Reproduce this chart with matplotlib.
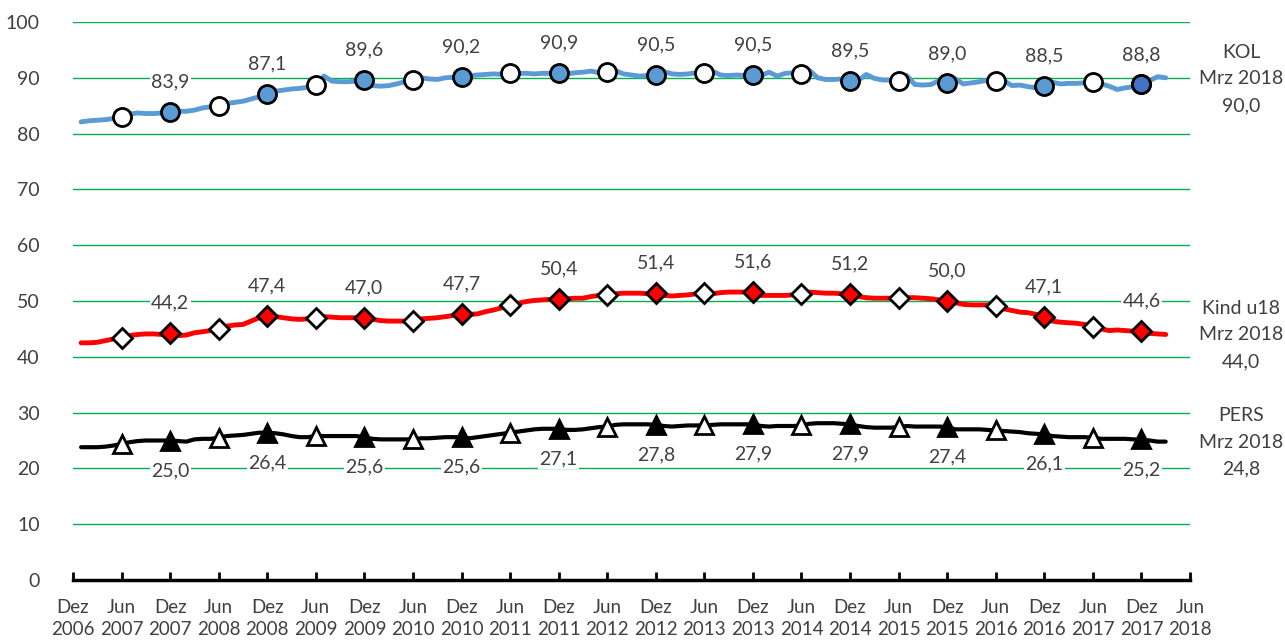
import numpy as np
import matplotlib.pyplot as plt

plt.rcParams['font.family'] = ['Lato', 'DejaVu Sans']

# monthly values, Jan 2007 .. Mrz 2018
kol = [
    82.1, 82.3, 82.4, 82.5, 82.7, 83.0, 83.5, 83.7, 83.6, 83.6, 83.7, 83.9,
    84.0, 84.0, 84.2, 84.6, 84.8, 85.0, 85.4, 85.6, 85.8, 86.2, 86.6, 87.1,
    87.6, 87.8, 88.0, 88.1, 88.3, 88.7, 90.3, 89.4, 89.3, 89.3, 89.4, 89.6,
    88.6, 88.5, 88.6, 88.9, 89.3, 89.6, 90.0, 89.8, 89.7, 90.0, 90.1, 90.2,
    90.4, 90.5, 90.6, 90.7, 90.6, 90.9, 90.8, 90.8, 90.7, 90.8, 90.8, 90.9,
    90.7, 90.9, 91.0, 91.2, 90.9, 91.0, 91.3, 90.7, 90.5, 90.3, 90.4, 90.5,
    91.1, 90.7, 90.6, 90.7, 90.9, 90.8, 91.2, 90.5, 90.4, 90.5, 90.4, 90.5,
    90.4, 91.0, 90.3, 90.8, 90.9, 90.7, 91.3, 90.0, 89.7, 89.7, 89.8, 89.5,
    89.5, 90.6, 89.9, 89.6, 89.6, 89.4, 90.4, 88.8, 88.7, 88.8, 89.5, 89.0,
    89.8, 88.9, 89.1, 89.3, 89.6, 89.4, 89.5, 88.6, 88.7, 88.4, 88.2, 88.5,
    89.2, 88.9, 89.0, 89.0, 89.1, 89.2, 88.9, 88.5, 87.9, 88.2, 88.4, 88.8,
    89.5, 90.2, 90.0,
]
kind = [
    42.5, 42.5, 42.6, 42.9, 43.2, 43.4, 43.8, 44.0, 44.1, 44.1, 44.0, 44.2,
    43.8, 43.9, 44.3, 44.5, 44.7, 45.0, 45.5, 45.7, 45.8, 46.4, 47.0, 47.4,
    47.2, 47.0, 46.8, 46.7, 46.8, 47.0, 47.2, 47.1, 47.0, 47.0, 47.0, 47.0,
    46.7, 46.5, 46.4, 46.4, 46.4, 46.4, 46.8, 46.9, 47.0, 47.2, 47.4, 47.7,
    47.6, 47.7, 48.1, 48.4, 48.8, 49.3, 49.6, 49.9, 50.1, 50.2, 50.3, 50.4,
    50.4, 50.5, 50.5, 50.8, 51.0, 51.0, 51.3, 51.4, 51.4, 51.4, 51.3, 51.4,
    51.0, 50.9, 51.0, 51.1, 51.3, 51.4, 51.3, 51.5, 51.6, 51.6, 51.6, 51.6,
    51.0, 51.0, 51.0, 51.0, 51.1, 51.3, 51.6, 51.5, 51.4, 51.4, 51.3, 51.2,
    50.8, 50.6, 50.5, 50.5, 50.5, 50.5, 50.6, 50.6, 50.5, 50.4, 50.2, 50.0,
    49.7, 49.4, 49.3, 49.3, 49.3, 49.1, 48.6, 48.3, 48.0, 47.9, 47.6, 47.1,
    46.4, 46.2, 46.1, 46.0, 45.8, 45.3, 45.0, 44.7, 44.8, 44.7, 44.6, 44.6,
    44.2, 44.1, 44.0,
]
pers = [
    23.8, 23.8, 23.8, 23.9, 24.1, 24.4, 24.7, 24.9, 25.0, 25.0, 25.0, 25.0,
    24.9, 24.8, 25.2, 25.3, 25.3, 25.5, 25.8, 25.9, 26.0, 26.2, 26.4, 26.4,
    26.3, 26.1, 25.8, 25.6, 25.6, 25.8, 25.8, 25.8, 25.8, 25.8, 25.8, 25.6,
    25.3, 25.2, 25.2, 25.2, 25.2, 25.2, 25.4, 25.4, 25.5, 25.6, 25.6, 25.6,
    25.4, 25.6, 25.8, 26.0, 26.2, 26.4, 26.6, 26.8, 27.0, 27.1, 27.1, 27.1,
    26.9, 26.9, 27.0, 27.2, 27.4, 27.5, 27.8, 27.9, 27.9, 27.9, 27.9, 27.8,
    27.6, 27.5, 27.6, 27.7, 27.7, 27.7, 27.8, 27.9, 27.9, 27.9, 27.9, 27.9,
    27.6, 27.5, 27.6, 27.6, 27.6, 27.7, 28.0, 28.1, 28.1, 28.1, 28.0, 27.9,
    27.6, 27.4, 27.3, 27.3, 27.3, 27.4, 27.6, 27.5, 27.5, 27.5, 27.5, 27.4,
    27.0, 27.0, 27.0, 27.0, 26.9, 26.8, 26.7, 26.6, 26.5, 26.3, 26.2, 26.1,
    25.8, 25.7, 25.6, 25.6, 25.6, 25.5, 25.3, 25.3, 25.3, 25.3, 25.2, 25.2,
    25.0, 24.8, 24.8,
]

tick_labels = [
    'Dez\n2006', 'Jun\n2007', 'Dez\n2007', 'Jun\n2008', 'Dez\n2008', 'Jun\n2009',
    'Dez\n2009', 'Jun\n2010', 'Dez\n2010', 'Jun\n2011', 'Dez\n2011', 'Jun\n2012',
    'Dez\n2012', 'Jun\n2013', 'Dez\n2013', 'Jun\n2014', 'Dez\n2014', 'Jun\n2015',
    'Dez\n2015', 'Jun\n2016', 'Dez\n2016', 'Jun\n2017', 'Dez\n2017', 'Jun\n2018',
]
names = ['KOL', 'Kind u18', 'PERS']
last_month = 'Mrz 2018'

TXT = '#404040'


def fmt(v):
    return f'{v:.1f}'.replace('.', ',')


def main():
    x = np.arange(1, len(kol) + 1)   # months after Dez 2006
    jun = np.arange(5, len(kol), 12)
    dez = np.arange(11, len(kol), 12)

    fig = plt.figure(figsize=(12.85, 6.44), dpi=100)
    ax = fig.add_axes([73 / 1285, 64 / 644, 1117 / 1285, 558 / 644])

    for y in range(10, 101, 10):
        ax.axhline(y, color='#00b050', lw=1, zorder=1)

    series = [
        (np.array(kol), '#5b9bd5', 'o', 13, 3.5, 30),
        (np.array(kind), '#ff0000', 'D', 10, 3.5, 30),
        (np.array(pers), 'black', '^', 13, 3.0, -30),
    ]
    for vals, col, mk, ms, lw, off in series:
        ax.plot(x, vals, color=col, lw=lw, zorder=3, solid_capstyle='round')
        ax.plot(x[jun], vals[jun], mk, ms=ms, mfc='white', mec='black',
                mew=2, zorder=4)
        ax.plot(x[dez], vals[dez], mk, ms=ms, mfc=col, mec='black',
                mew=2, zorder=4)
        for i in dez:
            ax.annotate(fmt(vals[i]), (x[i], vals[i]), xytext=(0, off),
                        textcoords='offset pixels', ha='center', va='center',
                        fontsize=14, color=TXT, zorder=2,
                        bbox=dict(fc='white', ec='none', pad=1))
    # last Dez marker of KOL is a darker blue
    ax.plot(x[dez[-1]], kol[dez[-1]], 'o', ms=13, mfc='#4472c4', mec='black',
            mew=2, zorder=5)

    # labels at the right
    blocks = [(names[0], kol[-1], 79), (names[1], kind[-1], 335),
              (names[2], pers[-1], 442)]
    for name, v, yc in blocks:
        for k, s in enumerate([name, last_month, fmt(v)]):
            fig.text(1241 / 1285, 1 - (yc + (k - 1) * 26.5) / 644, s,
                     ha='center', va='center', fontsize=14, color=TXT)

    ax.set_xlim(0, 138)
    ax.set_ylim(0, 100)
    ax.set_xticks(np.arange(0, 139, 6))
    ax.set_xticklabels(tick_labels, fontsize=13.5, color=TXT, linespacing=1.3)
    ax.set_yticks(np.arange(0, 101, 10))
    ax.set_yticklabels([str(v) for v in range(0, 101, 10)], fontsize=14,
                       color=TXT)
    ax.tick_params(axis='x', direction='in', length=6, width=2, pad=14)
    ax.tick_params(axis='y', length=0, pad=24)
    for s in ['left', 'right', 'top']:
        ax.spines[s].set_visible(False)
    ax.spines['bottom'].set_linewidth(2.5)
    ax.spines['bottom'].set_zorder(6)

    fig.savefig('out.png', dpi=100)


if __name__ == '__main__':
    main()
